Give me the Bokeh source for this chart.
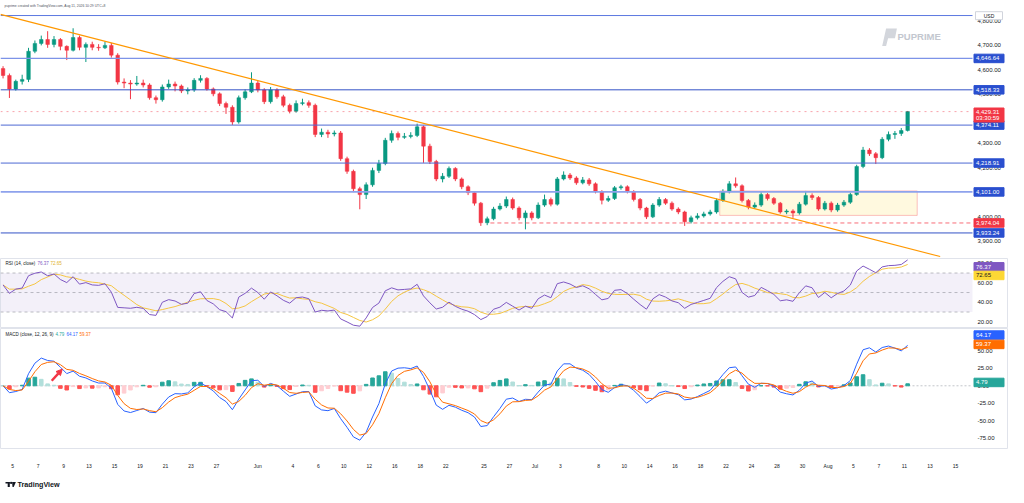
import numpy as np
import pandas as pd
from bokeh.plotting import figure
from bokeh.layouts import column
from bokeh.models import (ColumnDataSource, Range1d, BoxAnnotation, FixedTicker,
                          Arrow, NormalHead)
from bokeh.core.properties import value
from bokeh.embed import file_html
from bokeh.resources import INLINE

# ---------------------------------------------------------------- data
# 12-hour candles (each stands for about three 4h bars)
first_open = 4605.0
close = [
    4577, 4522, 4553, 4561, 4676, 4708, 4724, 4704, 4724, 4696,
    4680, 4732, 4692, 4704, 4692, 4690, 4700, 4660, 4550, 4546,
    4542, 4546, 4538, 4486, 4478, 4530, 4542, 4534, 4514, 4518,
    4557, 4565, 4522, 4502, 4462, 4447, 4387, 4486, 4510, 4546,
    4518, 4470, 4518, 4490, 4455, 4431, 4462, 4466, 4455, 4336,
    4345, 4338, 4342, 4237, 4185, 4114, 4090, 4130, 4189, 4217,
    4312, 4340, 4324, 4328, 4332, 4367, 4288, 4225, 4154, 4165,
    4197, 4154, 4122, 4098, 4055, 3975, 3991, 4031, 4043, 4070,
    4035, 3995, 4015, 3995, 4047, 4070, 4051, 4154, 4170, 4158,
    4138, 4150, 4134, 4102, 4067, 4074, 4118, 4122, 4102, 4070,
    4035, 3999, 4047, 4070, 4055, 4031, 4019, 3979, 3995, 4003,
    4011, 4019, 4066, 4102, 4134, 4126, 4066, 4039, 4047, 4090,
    4074, 4055, 4019, 4023, 4015, 4051, 4086, 4078, 4031, 4055,
    4027, 4047, 4059, 4090, 4205, 4272, 4257, 4241, 4316, 4336,
    4340, 4352, 4429.31]
high = [
    4615, 4585, 4560, 4580, 4690, 4720, 4740, 4758, 4738, 4730,
    4700, 4770, 4740, 4712, 4715, 4705, 4716, 4710, 4668, 4565,
    4558, 4575, 4560, 4545, 4495, 4540, 4560, 4552, 4540, 4528,
    4566, 4578, 4570, 4528, 4508, 4470, 4455, 4495, 4520, 4590,
    4555, 4525, 4530, 4525, 4498, 4462, 4475, 4482, 4475, 4462,
    4360, 4355, 4352, 4350, 4245, 4192, 4122, 4140, 4200, 4232,
    4322, 4352, 4348, 4342, 4345, 4380, 4372, 4298, 4232, 4178,
    4205, 4202, 4160, 4128, 4104, 4060, 4000, 4040, 4055, 4082,
    4078, 4042, 4025, 4022, 4058, 4090, 4078, 4162, 4185, 4178,
    4165, 4162, 4158, 4140, 4108, 4085, 4125, 4130, 4128, 4108,
    4076, 4040, 4055, 4080, 4076, 4062, 4038, 4024, 4004, 4014,
    4020, 4028, 4074, 4112, 4145, 4160, 4132, 4072, 4058, 4100,
    4096, 4080, 4060, 4030, 4030, 4060, 4105, 4095, 4084, 4064,
    4062, 4056, 4068, 4098, 4212, 4285, 4280, 4264, 4325, 4348,
    4350, 4362, 4432]
low = [
    4565, 4485, 4515, 4540, 4550, 4668, 4700, 4690, 4692, 4680,
    4640, 4675, 4680, 4632, 4680, 4678, 4685, 4650, 4540, 4525,
    4480, 4535, 4528, 4478, 4462, 4470, 4522, 4512, 4505, 4500,
    4510, 4548, 4515, 4492, 4452, 4420, 4375, 4380, 4478, 4505,
    4508, 4460, 4462, 4482, 4447, 4422, 4425, 4455, 4445, 4325,
    4325, 4322, 4328, 4228, 4175, 4100, 4030, 4072, 4122, 4178,
    4210, 4302, 4312, 4318, 4320, 4325, 4220, 4215, 4145, 4140,
    4158, 4145, 4112, 4088, 4045, 3962, 3965, 3985, 4025, 4035,
    4028, 3985, 3948, 3985, 3990, 4040, 4042, 4045, 4148, 4150,
    4130, 4132, 4126, 4095, 4050, 4060, 4068, 4110, 4095, 4062,
    4026, 3990, 3994, 4040, 4048, 4024, 4010, 3962, 3972, 3988,
    3996, 4004, 4012, 4060, 4095, 4118, 4058, 4030, 4032, 4040,
    4066, 4048, 4012, 4010, 3995, 4008, 4045, 4068, 4024, 4025,
    4018, 4020, 4040, 4052, 4085, 4198, 4248, 4215, 4235, 4308,
    4318, 4330, 4348]

# time axis (positions in trading days from May 5)
tick_days = [0, 2, 4, 6, 8, 10, 12, 14, 16, 19.25, 22, 24, 26, 28, 30, 32, 34, 37, 39,
             41, 43, 46, 48, 50, 52, 54, 56, 58, 60, 62, 64, 66, 68, 70, 72, 74]
tick_labels = ["5", "7", "9", "13", "15", "19", "21", "23", "27", "Jun", "4", "6", "10",
               "12", "16", "18", "22", "25", "27", "Jul", "3", "8", "10", "14", "16",
               "18", "22", "24", "28", "30", "Aug", "5", "7", "11", "13", "15"]
price_ticks = [3900, 4000, 4100, 4200, 4300, 4400, 4500, 4600, 4700, 4800]
rsi_ticks = [20, 40, 60, 80]
macd_ticks = [-75, -50, -25, 0, 25, 50, 75]

# drawings
levels = [4822.0, 4646.64, 4518.33, 4374.11, 4218.91, 4101.00, 3933.24]
support_price = 3974.04
support_start_day = 37.5
last_price = 4429.31
countdown = "03:30:59"
trend_days = [-0.95, 72.8]
trend_prices = [4827.0, 3837.0]
zone_days = [55.5, 71.0]
zone_prices = [4005.0, 4105.0]
arrow_days = [3.07, 3.9]
arrow_vals = [7.2, 23.9]

# indicator read-outs shown in the legends / axis tags
rsi_last, rsi_ma_last = 76.37, 72.65
hist_last, macd_last, signal_last = 4.79, 64.17, 59.37

header = "puprime created with TradingView.com, Aug 11, 2026 10:29 UTC+8"

# ---------------------------------------------------------------- derived
FONT = "Liberation Sans"
n = len(close)
bar_day = -0.75 + 0.5 * np.arange(n)
c = np.array(close, float)
o = np.array([first_open] + close[:-1], float)
h = np.array(high, float)
lo = np.array(low, float)
UP, DN = "#089981", "#f23645"
ccol = np.where(c >= o, UP, DN)


def smooth(x, alpha, seed):
    out = np.empty(len(x))
    prev = seed
    for i, v in enumerate(x):
        prev = prev + alpha * (v - prev)
        out[i] = prev
    return out

# RSI / MACD computed on these 12h bars with smoothing matched to the 4h settings
d = c - o
gain = np.clip(d, 0, None)
loss = np.clip(-d, 0, None)
ag = smooth(gain, 0.1, gain[:10].mean())
al = smooth(loss, 0.1, loss[:10].mean())
rsi = 100 - 100 / (1 + ag / np.maximum(al, 1e-9))
rsi_ma = pd.Series(rsi).rolling(5, min_periods=1).mean().values
macd = smooth(c, 0.394, c[0]) - smooth(c, 0.2135, c[0])
signal = smooth(macd, 0.5295, 0.0)
hist = macd - signal
prev = np.concatenate([[0.0], hist[:-1]])
hcol = np.where(hist >= 0, np.where(hist > prev, "#26a69a", "#b2dfdb"),
                np.where(hist < prev, "#ff5252", "#ffcdd2"))

# ---------------------------------------------------------------- layout geometry
W = 1008                 # canvas width
PANE_W = 972             # chart pane width; price scale to its right
X_START, X_END = -0.95, 75.34
DPX = (X_END - X_START) / PANE_W
X_FULL = X_START + W * DPX
xr = Range1d(X_START, X_FULL)


def make_fig(frame_h, lo_, hi_, bottom=0, xaxis=False, outline="#e0e3eb"):
    p = figure(frame_width=W, frame_height=frame_h, min_border_left=0,
               min_border_right=0, min_border_top=0, min_border_bottom=bottom,
               x_range=xr, y_range=Range1d(lo_, hi_),
               x_axis_location="below" if xaxis else None, y_axis_location=None,
               tools="", toolbar_location=None, output_backend="svg", title=None,
               background_fill_color="white", border_fill_color="white",
               outline_line_color=outline)
    p.grid.visible = False
    return p


def scale_labels(p, ticks, fmt):
    p.text(x=[X_END] * len(ticks), y=ticks, text=[fmt.format(t) for t in ticks],
           x_offset=5, text_align="left", text_baseline="middle",
           text_font=value(FONT), text_font_size="6px", text_color="#131722")


def tag(p, y, text, bg, ppx, fg="white", dy_px=0.0):
    yc = y + dy_px * ppx
    p.rect(x=[X_END + 16.5 * DPX], y=[yc], width=30, height=8.5,
           width_units="screen", height_units="screen", fill_color=bg, line_color=bg)
    p.text(x=[X_END], y=[yc], text=[text], x_offset=3.5, text_align="left",
           text_baseline="middle", text_font=value(FONT), text_font_size="6px",
           text_color=fg)


def note(p, x, y, text, color, size="4.5px", style="normal", x_offset=0):
    p.text(x=[x], y=[y], text=[text], x_offset=x_offset, text_align="left",
           text_baseline="middle", text_font=value(FONT), text_font_size=size,
           text_color=color, text_font_style=style)


def hline(p, y, color, width=1.0, dash="solid", alpha=1.0, x0=X_START):
    p.segment(x0=[x0], y0=[y], x1=[X_END], y1=[y], line_color=color,
              line_width=width, line_dash=dash, line_alpha=alpha)


# --- price pane (frame covers header strip too)
P_LO = 3828.8
PPX1 = (4842.6 - P_LO) / 248
P_HI = P_LO + 258 * PPX1
p1 = make_fig(258, P_LO, P_HI, outline=None)


def px1(cx, cy):
    """canvas pixel -> price-pane data (for logo shapes only)"""
    return X_START + cx * DPX, P_HI - cy * PPX1


p1.add_layout(BoxAnnotation(left=zone_days[0], right=zone_days[1], bottom=zone_prices[0],
                            top=zone_prices[1], fill_color="#fff8dc", fill_alpha=0.9,
                            line_color="#f23645", line_width=1, level="underlay"))

src = ColumnDataSource(dict(x=bar_day, o=o, c=c, h=h, l=lo, color=ccol,
                            top=np.maximum(o, c), bottom=np.minimum(o, c)))
p1.segment("x", "h", "x", "l", source=src, line_color="color", line_width=1)
p1.vbar(x="x", width=0.28, top="top", bottom="bottom", source=src,
        fill_color="color", line_color="color", line_width=0.5)

level_colors = ["#5b78e0", "#7d93e8", "#3452c6", "#4d69d3", "#4d69d3", "#8ea2ec", "#3452c6"]
level_widths = [1, 1.2, 1, 1, 1, 1.8, 1]
for lv, col, lw in zip(levels, level_colors, level_widths):
    hline(p1, lv, col, lw)
hline(p1, last_price, "#f23645", 1, "dotted", 0.45)
hline(p1, support_price, "#f7525f", 1, "4 3", 0.85, x0=support_start_day)
p1.line(trend_days, trend_prices, line_color="#ff9800", line_width=1.2)

# watermark
wm = [px1(881.7, 45.5), px1(885.6, 28.1), px1(896.4, 28.1), px1(894.5, 37.8),
      px1(887.6, 37.8), px1(885.6, 45.5)]
p1.patch([q[0] for q in wm], [q[1] for q in wm], fill_color="#d3d6dc", line_color=None)
note(p1, X_START + 897 * DPX, P_HI - 35.8 * PPX1, "PUPRIME", "#c3c7cf",
     size="9.5px", style="bold")

scale_labels(p1, price_ticks, "{:,.2f}")
TAG_BLUE = "#2a4fcf"
for lv in levels[1:]:
    tag(p1, lv, f"{lv:,.2f}", TAG_BLUE, PPX1)
tag(p1, support_price, f"{support_price:,.2f}", "#f23645", PPX1)
# current price tag with countdown (two lines)
p1.rect(x=[X_END + 16.5 * DPX], y=[last_price - 3.4 * PPX1], width=30, height=14,
        width_units="screen", height_units="screen", fill_color="#f23645",
        line_color="#f23645")
p1.text(x=[X_END, X_END], y=[last_price, last_price - 6.6 * PPX1],
        text=[f"{last_price:,.2f}", countdown], x_offset=3.5, text_align="left",
        text_baseline="middle", text_font=value(FONT), text_font_size="6px",
        text_color="white")
# currency box
usd_y = P_HI - 15.2 * PPX1
p1.rect(x=[X_END + 16.5 * DPX], y=[usd_y], width=27, height=8, width_units="screen",
        height_units="screen", fill_color="white", line_color="#d1d4dc")
p1.text(x=[X_END + 16.5 * DPX], y=[usd_y], text=["USD"], text_align="center",
        text_baseline="middle", text_font=value(FONT), text_font_size="5px",
        text_color="#131722")
note(p1, X_START, P_HI - 5 * PPX1, header, "#50535e", size="3.4px", x_offset=4)

# --- RSI pane
R_LO, R_HI = 13.1, 84.9
PPX2 = (R_HI - R_LO) / 70
p2 = make_fig(70, R_LO, R_HI)
p2.add_layout(BoxAnnotation(bottom=30, top=70, right=X_END, fill_color="#7e57c2",
                            fill_alpha=0.09, line_alpha=0, level="underlay"))
for lv in (70, 50, 30):
    hline(p2, lv, "#9598a1", 0.8, "3 3", 0.8)
p2.line(bar_day, rsi_ma, line_color="#f5c542", line_width=1)
p2.line(bar_day, rsi, line_color="#7e57c2", line_width=1)
scale_labels(p2, rsi_ticks, "{:.2f}")
tag(p2, rsi_last, f"{rsi_last:.2f}", "#7e57c2", PPX2)
tag(p2, rsi_ma_last, f"{rsi_ma_last:.2f}", "#fdd835", PPX2, fg="#131722", dy_px=-5)
ty2 = R_HI - 4.5 * PPX2
note(p2, X_START, ty2, "RSI (14, close)", "#131722", x_offset=5)
note(p2, X_START, ty2, f"{rsi_last:.2f}", "#7e57c2", x_offset=37)
note(p2, X_START, ty2, f"{rsi_ma_last:.2f}", "#e0b028", x_offset=50)

# --- MACD pane
M_LO, M_HI = -90.0, 82.2
PPX3 = (M_HI - M_LO) / 120
p3 = make_fig(120, M_LO, M_HI, bottom=18, xaxis=True)
hline(p3, 0, "#9598a1", 0.8, "2 2", 0.7)
p3.vbar(x=bar_day, width=0.28, top=hist, bottom=0, fill_color=hcol, line_color=hcol)
p3.line(bar_day, macd, line_color="#2962ff", line_width=1)
p3.line(bar_day, signal, line_color="#ff6d00", line_width=1)
p3.add_layout(Arrow(end=NormalHead(size=6, fill_color="#f23645", line_color="#f23645"),
                    x_start=arrow_days[0], y_start=arrow_vals[0],
                    x_end=arrow_days[1], y_end=arrow_vals[1],
                    line_color="#f23645", line_width=2.5))
scale_labels(p3, macd_ticks, "{:.2f}")
tag(p3, macd_last, f"{macd_last:.2f}", "#2962ff", PPX3, dy_px=6)
tag(p3, signal_last, f"{signal_last:.2f}", "#ff6d00", PPX3)
tag(p3, hist_last, f"{hist_last:.2f}", "#26a69a", PPX3)
ty3 = M_HI - 5.8 * PPX3
note(p3, X_START, ty3, "MACD (close, 12, 26, 9)", "#131722", x_offset=5)
note(p3, X_START, ty3, f"{hist_last:.2f}", "#26a69a", x_offset=55)
note(p3, X_START, ty3, f"{macd_last:.2f}", "#2962ff", x_offset=66)
note(p3, X_START, ty3, f"{signal_last:.2f}", "#ff6d00", x_offset=79)

xa = p3.xaxis[0]
xa.ticker = FixedTicker(ticks=tick_days)
xa.major_label_overrides = {float(t): s for t, s in zip(tick_days, tick_labels)}
xa.axis_line_color = None
xa.major_tick_line_color = None
xa.minor_tick_line_color = None
xa.major_label_text_font = FONT
xa.major_label_text_font_size = "5px"
xa.major_label_text_color = "#131722"
xa.major_label_standoff = 8

# --- footer strip with the TradingView mark
p4 = make_fig(21, 0, 21, outline=None)


def px4(cx):
    return X_START + cx * DPX


# small "TV" logo mark
p4.quad(left=[px4(5)], right=[px4(9.3)], bottom=[8.9], top=[10.6], fill_color="#131722",
        line_color=None)
p4.quad(left=[px4(7.2)], right=[px4(9.3)], bottom=[5.6], top=[10.6], fill_color="#131722",
        line_color=None)
p4.scatter(x=[px4(10.6)], y=[9.6], size=2.2, fill_color="#131722", line_color=None)
p4.patch([px4(11.6), px4(15.4), px4(13.2), px4(12.0)], [10.6, 10.6, 5.6, 5.6],
         fill_color="#131722", line_color=None)
note(p4, X_START, 8.2, "TradingView", "#131722", size="7.2px", style="bold", x_offset=17)

layout = column(p1, p2, p3, p4)
open("out.html", "w").write(file_html(layout, INLINE))
